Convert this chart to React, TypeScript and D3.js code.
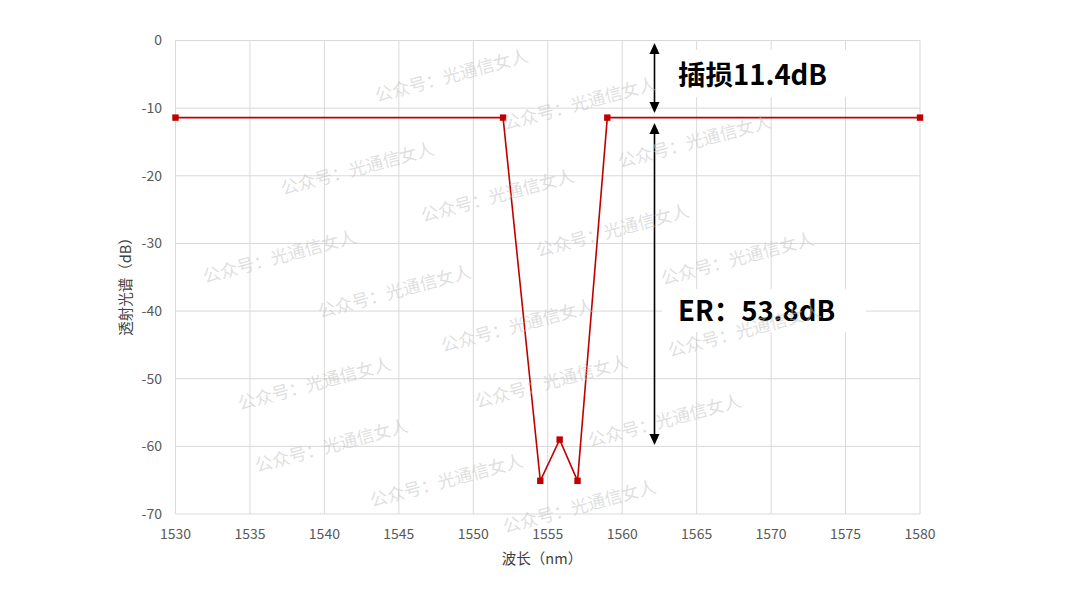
import React from "react";
import * as d3 from "d3";

const wavelengths = [1530, 1552, 1554.5, 1555.8, 1557, 1559, 1580];
const transmission = [-11.4, -11.4, -65.1, -59, -65.1, -11.4, -11.4];
const xTicks = [1530, 1535, 1540, 1545, 1550, 1555, 1560, 1565, 1570, 1575, 1580];
const yTicks = [0, -10, -20, -30, -40, -50, -60, -70];
const xTitle = "波长（nm）";
const yTitle = "透射光谱（dB）";
const ilLabel = "插损11.4dB";
const erLabel = "ER：53.8dB";
const watermarkText = "公众号：光通信女人";
const watermarks: [number, number][] = [
  [377, 102], [505, 130], [620, 168], [283, 195], [423, 222], [538, 257],
  [663, 285], [205, 283], [320, 318], [443, 352], [670, 357], [240, 410],
  [477, 408], [590, 447], [257, 472], [372, 507], [505, 533],
];

const W = 1080;
const H = 608;
const FONT = "'Noto Sans CJK SC', 'Noto Sans', sans-serif";

export default function App() {
  const x = d3.scaleLinear().domain([1530, 1580]).range([175.5, 920]);
  const y = d3.scaleLinear().domain([-70, 0]).range([514, 40.5]);
  const pts = wavelengths.map((w, i) => [x(w), y(transmission[i])] as [number, number]);
  const line = d3.line<[number, number]>()(pts) || "";
  const red = "#c00000";
  const arrowX = 654.5;
  const ah = 11;
  const aw = 5;
  const arrowHead = (tx: number, ty: number, dir: number) =>
    `M${tx},${ty} L${tx - aw},${ty + dir * ah} L${tx + aw},${ty + dir * ah} Z`;
  const a1Top = 43, a1Bot = 113, a2Top = 123, a2Bot = 445;

  return (
    <svg width={W} height={H} style={{ position: "absolute", left: 0, top: 0, background: "#fff" }} fontFamily={FONT}>
      <rect x={0} y={0} width={W} height={H} fill="#fff" />
      {xTicks.map((t) => (
        <line key={"gx" + t} x1={x(t)} x2={x(t)} y1={y(0)} y2={y(-70)} stroke="#d9d9d9" strokeWidth={1} />
      ))}
      {yTicks.map((t) => (
        <line key={"gy" + t} x1={x(1530)} x2={x(1580)} y1={y(t)} y2={y(t)} stroke="#d9d9d9" strokeWidth={1} />
      ))}
      <rect x={664} y={50} width={188} height={47} fill="#fff" />
      <rect x={662} y={289} width={204} height={43} fill="#fff" />
      {yTicks.map((t) => (
        <text key={"ty" + t} x={162} y={y(t)} dy="0.35em" textAnchor="end" fontSize={14} fill="#595959">
          {t}
        </text>
      ))}
      {xTicks.map((t) => (
        <text key={"tx" + t} x={x(t)} y={538.5} textAnchor="middle" fontSize={14} fill="#595959">
          {t}
        </text>
      ))}
      <text x={542} y={564} textAnchor="middle" fontSize={14.5} fill="#404040">{xTitle}</text>
      <text transform={`translate(131,283) rotate(-90)`} textAnchor="middle" fontSize={14.5} fill="#404040">{yTitle}</text>
      <path d={line} fill="none" stroke={red} strokeWidth={1.6} />
      {pts.map((p, i) => (
        <rect key={"m" + i} x={p[0] - 3.2} y={p[1] - 3.2} width={6.4} height={6.4} fill={red} />
      ))}
      <line x1={arrowX} x2={arrowX} y1={a1Top + ah} y2={a1Bot - ah} stroke="#000" strokeWidth={1.6} />
      <path d={arrowHead(arrowX, a1Top, 1)} fill="#000" />
      <path d={arrowHead(arrowX, a1Bot, -1)} fill="#000" />
      <line x1={arrowX} x2={arrowX} y1={a2Top + ah} y2={a2Bot - ah} stroke="#000" strokeWidth={1.6} />
      <path d={arrowHead(arrowX, a2Top, 1)} fill="#000" />
      <path d={arrowHead(arrowX, a2Bot, -1)} fill="#000" />
      <text x={678} y={85} fontSize={27.5} fontWeight="bold" fill="#000">{ilLabel}</text>
      <text x={678} y={320.5} fontSize={27.5} fontWeight="bold" fill="#000">{erLabel}</text>
      {watermarks.map(([wx, wy], i) => (
        <text key={"w" + i} transform={`translate(${wx},${wy}) rotate(-15)`} fontSize={17.5} fill="#c4c4c4" fillOpacity={0.55}>
          {watermarkText}
        </text>
      ))}
    </svg>
  );
}
